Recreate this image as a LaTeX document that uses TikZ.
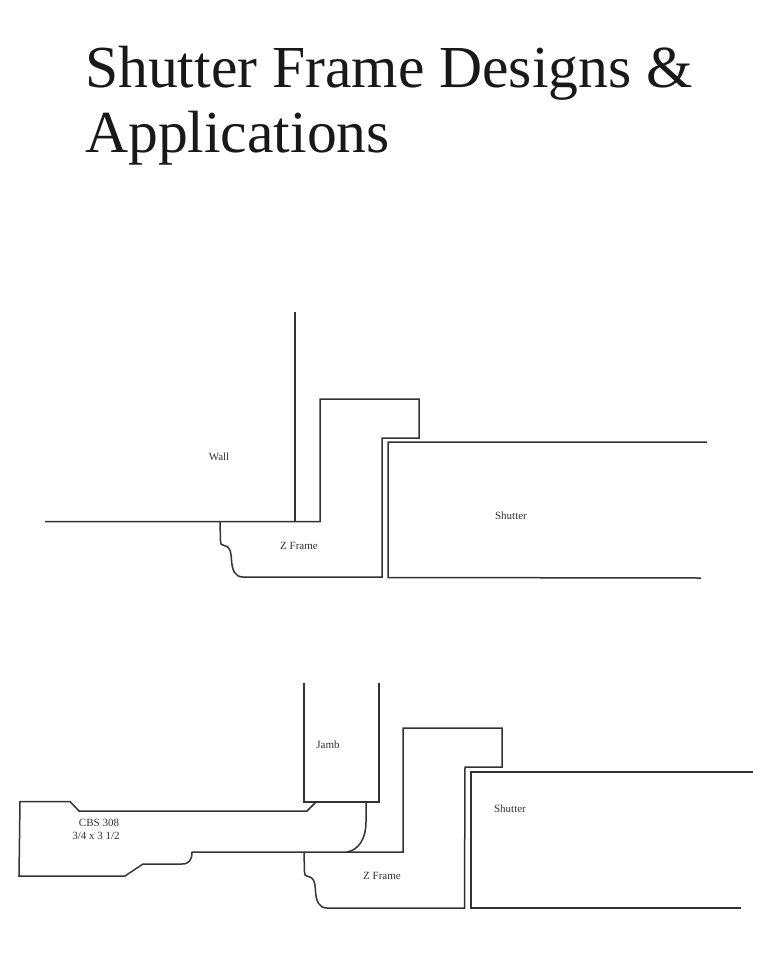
\documentclass[tikz,border=0pt]{standalone}
\usepackage{fontspec}
\setmainfont{Liberation Serif}
\tikzset{mlabel/.style = {inner sep=0pt,
                          align=center,
                          color = black!80,
                          font=\fontsize{11}{12.5}\selectfont},
         mtitle/.style = {inner sep=0pt,
                          anchor=base west,
                          color = black!90,
                          font=\fontsize{59.6}{60}\selectfont},
         mline/.style = {draw, color = black!80, line width=1.5pt, line join=miter}}
\begin{document}
\begin{tikzpicture}[x=1pt,y=-1pt]
		\useasboundingbox (0,0) rectangle (768,964);
		\node[mtitle] (title1) at (85,87) {Shutter Frame Designs \&};
		\node[mtitle] (title2) at (85,152) {Applications};
		% upper detail
		\path[mline] (295,312) -- (295,521.5);
		\path[mline] (45,521.5) -- (320,521.5) -- (320,399) -- (419,399) -- (419,438) -- (382,438) -- (382,577) -- (243,577)
			.. controls (235,577) and (232,570) .. (231.5,560)
			.. controls (231,550) and (229,546) .. (224,545.5)
			.. controls (221,545) and (220.5,544) .. (220.5,541) -- (220,521.5);
		\path[mline] (707,442) -- (388,442) -- (388,577.5) -- (701,578);
		\node[mlabel] (wall) at (219,457) {Wall};
		\node[mlabel] (zframe1) at (299,545.5) {Z Frame};
		\node[mlabel] (shutter1) at (511,515.5) {Shutter};
		% lower detail
		\path[mline] (304,683) -- (304,802) -- (379,802) -- (379,683);
		\path[mline] (316,802) -- (307,811) -- (79,811) -- (70,801.5) -- (20,801.5) -- (19,876) -- (125,876) -- (143,864) -- (182,864)
			.. controls (189,864) and (192,860) .. (192,852) -- (403,852) -- (403,728) -- (502,728) -- (502,767) -- (465,767) -- (464.5,908) -- (327,908)
			.. controls (319,908) and (316,901) .. (315.5,891)
			.. controls (315,881) and (313,877) .. (308,876.5)
			.. controls (305,876) and (304.5,875) .. (304.5,872) -- (304,852);
		\path[mline] (347,852) .. controls (359,850) and (366,838) .. (366,822) -- (366,802);
		\path[mline] (753,772) -- (471,772) -- (471,908) -- (741,908);
		\node[mlabel] (jamb) at (328,744.5) {Jamb};
		\node[mlabel] (cbs) at (96,829.5) {\hspace*{6pt}CBS 308\\3/4 x 3 1/2};
		\node[mlabel] (zframe2) at (382,875.5) {Z Frame};
		\node[mlabel] (shutter2) at (510,808.5) {Shutter};
	\end{tikzpicture}
\end{document}
